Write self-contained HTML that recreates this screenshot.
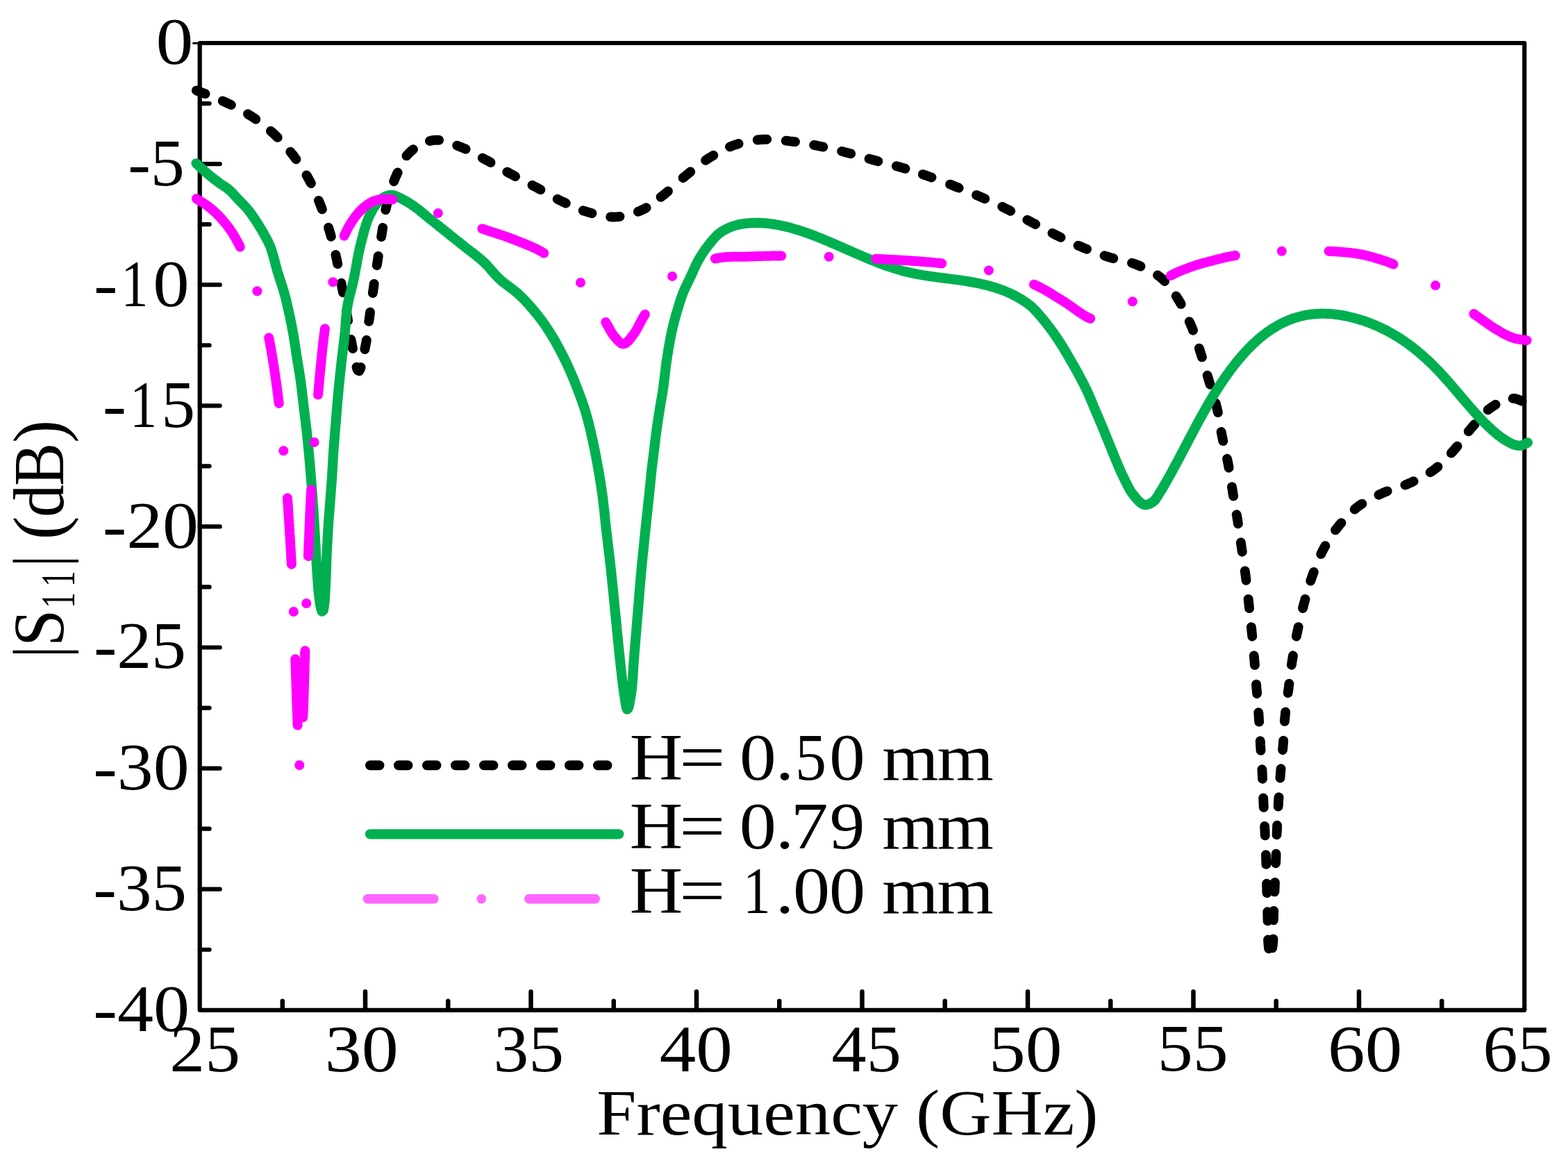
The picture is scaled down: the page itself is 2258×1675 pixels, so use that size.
<!DOCTYPE html><html><head><meta charset="utf-8"><title>S11 vs Frequency</title><style>html,body{margin:0;padding:0;background:#fff;}svg{display:block;}text{font-family:"Liberation Serif","Times New Roman",serif;fill:#000;}</style></head><body>
<svg xmlns="http://www.w3.org/2000/svg" width="2258" height="1675" viewBox="0 0 2258 1675">
<rect width="2258" height="1675" fill="#fff"/>
<g stroke="#000" fill="none">
<path d="M287.7 62.0H2195.3V1454.8H287.7Z" stroke-width="6.2" stroke-linejoin="round"/>
<path d="M278.5 62.2H288" stroke-width="3" stroke-linecap="round"/>
<path d="M406.75 1454.8V1441.7M526.00 1454.8V1428.3M645.25 1454.8V1441.7M764.50 1454.8V1428.3M883.75 1454.8V1441.7M1003.00 1454.8V1428.3M1122.25 1454.8V1441.7M1241.50 1454.8V1428.3M1360.75 1454.8V1441.7M1480.00 1454.8V1428.3M1599.25 1454.8V1441.7M1718.50 1454.8V1428.3M1837.75 1454.8V1441.7M1957.00 1454.8V1428.3M2076.25 1454.8V1441.7" stroke-width="6.5" stroke-linecap="round"/>
<path d="M287.7 149.05H301.6M287.7 236.10H316.7M287.7 323.15H301.6M287.7 410.20H316.7M287.7 497.25H301.6M287.7 584.30H316.7M287.7 671.35H301.6M287.7 758.40H316.7M287.7 845.45H301.6M287.7 932.50H316.7M287.7 1019.55H301.6M287.7 1106.60H316.7M287.7 1193.65H301.6M287.7 1280.70H316.7M287.7 1367.75H301.6" stroke-width="6.2" stroke-linecap="round"/>
</g>
<path d="M282.9 130.4L285.4 131.3L288.1 132.2L290.4 133.1L292.4 133.9L294.7 134.8L295.5 135.1M320.7 145.4L323 146.5L324.9 147.3L326.7 148.2L329.3 149.5L332 150.7L332.8 151.1M357 164.3L359.4 165.8L361.9 167.4L364.4 169L366.8 170.7L368.2 171.7M389.8 188.7L391.9 190.5L394.1 192.5L396.2 194.5L398.3 196.6L399.7 197.9M418.2 218.6L420 220.8L421.8 223.1L423.6 225.5L425.3 227.8L426.4 229.3M441.5 252.4L442.9 254.9L444.3 257.4L445.7 260L447.1 262.6L447.9 264.1M458.9 288.9L459.9 291.3L461 294.1L462.1 296.8L463.2 299.6L463.9 301.4M473 327.8L473.9 330.5L474.7 333.4L475.6 336.2L476.4 339.1L476.8 340.7M483.4 367L483.9 369.6L484.6 372.5L485.2 375.4L485.8 378.3L486.2 380.2M491.5 407.8L492 410.6L492.5 413.5L493.1 416.4L493.6 419.4L493.9 421.2M498.8 448.5L499.3 451.3L499.8 454.2L500.3 457.2L500.8 460.1L501.1 461.8M505.4 488.9L505.9 491.6L506.5 494.5L507.1 497.5L507.5 499.7L508 502L508 502M513.5 528.8L514.3 531.2L515.3 533.4L517.3 534.1L518.6 531.8L519.4 529.6L519.6 529M525.4 503L525.8 500.8L526.2 498.6L526.6 496.6L527.2 493.7L527.7 490.8L527.8 490M531.2 462.9L531.6 460.3L532 457.3L532.4 454.4L532.8 451.4L533 449.6M536.8 422.1L537.2 419.3L537.7 416.4L538.1 413.5L538.5 410.5L538.7 408.9M542.7 382.2L543.1 379.6L543.6 376.7L544 373.7L544.5 370.8L544.7 368.9M549.1 341.1L549.6 338.2L550 335.3L550.5 332.3L550.8 330.3L551.2 328M555.3 302.3L555.8 300L556.2 298.1L556.7 296.1L557.4 293.3L558.1 290.5L558.4 289.2M567.2 261.2L568 259.1L569.1 256.4L570.3 253.7L571.1 251.8L571.9 250L572.6 248.5M585.5 224.4L587.4 222.2L589.3 220.2L591.4 218.2L593.7 216.3L595 215.2M618.9 203L621.7 202.4L624.5 201.9L627.2 201.7L630 201.7L632.1 201.8M658.2 209.6L660.7 210.6L662.6 211.4L665.3 212.5L668.1 213.6L670.6 214.7M694.8 227.6L697.2 228.9L699.8 230.3L702.4 231.7L705.1 233.2L706.5 234M730.3 247.6L732.6 248.9L735.2 250.3L737.8 251.7L740.4 253.1L742 254M766.5 266.8L768.9 268.1L771.5 269.4L774.1 270.8L776.7 272.3L778.4 273.2M802.7 286.8L805.3 288.1L807.9 289.4L810.6 290.7L813.3 291.9L814.8 292.7M839.7 303.3L842.3 304.1L845.1 305L847.9 305.9L850.7 306.7L852.4 307.2M879.2 312.4L882 312.5L884.9 312.5L887.8 312.4L890.7 312.1L892.5 311.9M918.9 304.8L921.5 303.8L924.1 302.6L926.8 301.3L929.4 300L930.6 299.3M951.6 283.9L953.3 282.5L954.9 281.3L956.5 280L958.7 278.2L961 276.4L962 275.5M983.6 256.2L985.3 254.8L987.5 252.9L989.8 251.1L991.4 249.8L992.9 248.5L994.2 247.5M1016.1 230.9L1018.4 229.3L1020.9 227.7L1023.4 226.1L1025.9 224.6L1027.3 223.8M1051 211.4L1053.4 210.5L1056.2 209.4L1058.9 208.5L1061.7 207.6L1063.6 207M1090.8 201.5L1093.7 201.2L1096.6 201L1099.6 200.8L1102.5 200.7L1104.3 200.7M1131.7 202.6L1134.3 202.9L1137.3 203.3L1140.2 203.6L1143.1 204L1145 204.2M1172.2 208.9L1175 209.4L1177.8 210L1180.8 210.6L1183.7 211.2L1185.4 211.6M1212.2 217.9L1214.8 218.6L1217.7 219.4L1220.6 220.1L1223.5 220.9L1225.2 221.3M1251.6 228.7L1254.2 229.4L1257 230.2L1259.9 231L1262.8 231.8L1264.4 232.2M1290.9 239.2L1293.5 239.9L1296.4 240.7L1299.2 241.6L1302.1 242.4L1303.5 242.9M1328.9 251.1L1331.2 251.9L1333.1 252.5L1335 253.2L1337.7 254.2L1340.5 255.2L1341.5 255.5M1368.1 265.6L1370 266.3L1372.7 267.4L1375.4 268.5L1377.3 269.2L1380.1 270.3L1380.7 270.6M1406.1 281L1408.6 282L1411.3 283.2L1414 284.4L1416.8 285.6L1418.3 286.3M1443.3 297.8L1445.7 299L1448.4 300.4L1451.1 301.7L1453.7 303L1455.2 303.8M1479.3 316.8L1481.7 318L1484.3 319.4L1487 320.8L1489.6 322.2L1491.1 323M1515.5 335.9L1517.9 337.1L1520.6 338.5L1523.3 339.8L1525.9 341.1L1527.5 341.9M1552.6 353.6L1555.2 354.7L1557.9 355.8L1560.6 357L1563.4 358.1L1565 358.7M1590.6 368.2L1593.1 369.1L1596 370L1598.8 370.9L1601.7 371.7L1603.3 372.2M1630 378.8L1632.6 379.6L1635.4 380.6L1638.1 381.7L1640.8 382.8L1642.5 383.6M1667 396.4L1669.4 398.1L1671.7 399.9L1673.9 401.8L1676 403.7L1677.2 405M1693.7 426.4L1695.1 428.7L1696.7 431.2L1698.2 433.7L1699.7 436.2L1700.7 437.9M1712.8 463.2L1714 465.8L1715.1 468.6L1716.3 471.3L1717.4 474.1L1718 475.7M1726.9 501.6L1727.7 504.2L1728.6 507.1L1729.5 509.9L1730.4 512.7L1730.9 514.4M1738.7 540.7L1739.5 543.3L1740 545.2L1740.6 547.1L1741.5 550L1742.3 552.8L1742.6 553.7M1750.7 580.7L1751.4 583.5L1752.2 586.4L1752.8 589.3L1753.5 592.2L1753.9 594.1M1758.7 622L1759.1 624.1L1759.6 626.9L1760.2 629.8L1760.8 632.7L1761.3 635.1M1767.1 660.7L1767.6 663.1L1768.2 666L1768.8 668.9L1769.3 671.8L1769.6 673.7M1774 701.3L1774.5 704.1L1774.9 707L1775.4 710L1775.9 712.9L1776.2 714.5M1780.8 741.2L1781.3 743.8L1781.7 746.7L1782.2 749.7L1782.7 752.6L1782.9 754.3M1786.9 781.3L1787.2 784L1787.7 786.9L1788.1 789.9L1788.5 792.8L1788.8 794.7M1792.8 822.4L1793.2 825.3L1793.6 828.2L1794 831.2L1794.3 834.1L1794.5 835.8M1797.7 862.9L1798 865.6L1798.3 868.5L1798.6 871.5L1798.9 874.4L1799.1 876.1M1801.9 903.1L1802.2 905.8L1802.5 908.7L1802.8 911.7L1803.1 914.6L1803.3 916.5M1805.8 944.3L1806.1 947.2L1806.3 950.1L1806.6 953.1L1806.8 956L1807 957.9M1809.1 985.6L1809.3 988.5L1809.5 991.4L1809.8 994.4L1810 997.3L1810.1 999M1812.3 1026.2L1812.5 1028.8L1812.7 1031.8L1812.9 1034.8L1813.1 1037.7L1813.2 1039.6M1814.8 1067.3L1815 1070.2L1815.1 1073.1L1815.3 1076.1L1815.5 1079.1L1815.6 1080.8M1817.4 1108.2L1817.6 1110.9L1817.7 1113.9L1817.9 1116.9L1818 1119.8L1818.1 1121.7M1819.2 1149.5L1819.3 1152.4L1819.5 1155.3L1819.6 1158.3L1819.7 1161.2L1819.8 1162.9M1821.2 1190L1821.3 1192.6L1821.5 1195.6L1821.6 1198.6L1821.7 1201.5L1821.8 1203.4M1823 1231.3L1823.1 1234.1L1823.2 1237.1L1823.3 1240.1L1823.4 1243L1823.4 1244.9M1824.1 1272.7L1824.2 1275.6L1824.3 1278.5L1824.4 1281.5L1824.4 1284.4L1824.5 1286.1M1825.3 1313.2L1825.4 1315.9L1825.5 1318.8L1825.5 1321.8L1825.6 1323.8L1825.6 1325.8L1825.6 1326.4M1826.1 1353.4L1826.2 1355.9L1826.4 1358.4L1826.6 1361.2L1826.9 1363.6L1827.1 1366.2M1832.3 1365.2L1832.6 1362.6L1832.9 1360.2L1833.2 1357.4L1833.4 1354.8L1833.5 1352.4M1833.9 1325.3L1834 1322.7L1834 1320.7L1834.1 1317.7L1834.2 1314.8L1834.3 1312M1835.4 1284.4L1835.5 1281.6L1835.7 1278.7L1835.8 1275.7L1835.9 1272.8L1836 1271M1837.1 1243.2L1837.2 1240.4L1837.4 1237.5L1837.5 1234.5L1837.6 1231.6L1837.6 1229.8M1838.6 1202.2L1838.7 1199.4L1838.9 1196.5L1839 1193.5L1839.1 1190.5L1839.2 1188.8M1840.7 1161.5L1840.9 1158.8L1841 1155.8L1841.2 1152.9L1841.4 1149.9L1841.5 1148.1M1843.5 1120.5L1843.7 1117.7L1843.9 1114.8L1844.2 1111.8L1844.4 1108.9L1844.6 1107.2M1847.1 1080L1847.4 1077.4L1847.6 1074.4L1847.9 1071.4L1848.1 1068.5L1848.2 1066.7M1849.9 1038.9L1850.1 1036.1L1850.4 1033.2L1850.7 1030.2L1851 1027.3L1851.2 1025.5M1854.7 998L1855.1 995.2L1855.5 992.3L1855.9 989.3L1856.2 986.4L1856.4 984.7M1859.9 957.7L1860.3 955L1860.7 952.1L1861.2 949.2L1861.7 946.3L1862 944.3M1866.9 916.5L1867.3 914.5L1867.9 911.6L1868.5 908.7L1869.1 905.8L1869.7 903.1M1876.1 876L1876.8 873.3L1877.5 870.4L1878.3 867.6L1879.1 864.7L1879.5 863M1887.3 836.6L1888.2 834.1L1889.2 831.2L1890.2 828.4L1891.2 825.7L1891.8 823.9M1902.3 798.1L1903.5 795.5L1904.8 792.9L1906.2 790.3L1907.6 787.7L1908.4 786.2M1923.1 763.4L1924.8 761.3L1926.6 759L1928.4 756.7L1930.3 754.4L1931.5 753.1M1950.7 733.6L1952.8 731.8L1955.1 730L1957.5 728.2L1959.9 726.5L1961.4 725.6M1985.5 712.7L1988 711.5L1990.7 710.3L1993.4 709.1L1996.1 708L1997.7 707.4M2023.4 698.5L2025.9 697.6L2028.6 696.4L2031.3 695.2L2034 693.9L2035.6 693.2M2059.7 680.3L2062 678.8L2064.4 677.1L2066.7 675.3L2069 673.5L2070.5 672.3M2089.9 652.6L2091.8 650.5L2093.8 648.3L2095.7 646.1L2097.6 643.8L2098.6 642.6M2114.8 621.3L2116.4 619.4L2117.7 617.8L2119 616.3L2120.9 614L2122.3 612.5L2123.5 611.1M2142.7 590.4L2144.4 589L2146.7 587.3L2149.1 585.6L2150.9 584.5L2152.7 583.4L2153.7 582.8M2178.7 573.9L2180.9 573.9L2182.9 574.3L2185.7 575.2L2188.4 576.3L2191.1 577.4L2191.5 577.5" fill="none" stroke="#000" stroke-width="13.9" stroke-linecap="round" stroke-linejoin="round"/>
<path d="M282.6 235.3L284.7 237.3L286.9 239.2L289 241.2L291.1 243.2L293.3 245.2L295.4 247.1L297.5 249L299.7 250.9L301.9 252.8L303.5 254.1L305.1 255.3L306.7 256.5L309 258.4L311.4 260.1L313.7 261.9L315.9 263.5L318.2 265.2L319.9 266.3L322.3 267.9L324.7 269.4L327 271L329.3 272.8L331.5 274.7L333.5 276.7L335.5 278.8L337.5 281L339.5 283.3L341.5 285.5L343.5 287.6L345.5 289.6L347.5 291.6L349.5 293.6L351.6 295.7L353.5 297.8L355.5 300L357.3 302.2L359.1 304.5L360.8 306.8L362.5 309.2L364.3 311.7L365.4 313.3L366.5 315L367.6 316.7L369.3 319.1L370.8 321.6L372.4 324.1L373.5 325.8L374.5 327.6L375.6 329.3L376.6 331L378.1 333.6L379.5 336.1L380.9 338.6L382.3 341.2L383.7 343.6L384.9 345.9L386.2 348.3L387.4 350.9L388.6 353.6L389.4 355.6L390.3 358L391.2 360.5L392 363.2L392.8 366.1L393.4 368L393.9 369.9L394.5 371.9L395 374L395.5 376L396.1 378L396.6 380.1L397.1 382.1L397.7 384.1L398.2 386.1L398.8 388.1L399.3 390.1L400.2 393L401.1 395.8L401.9 398.6L402.8 401.3L403.7 404.1L404.6 406.8L405.5 409.6L406.4 412.3L407.3 415.1L408.2 418L408.7 419.9L409.3 421.9L409.9 423.8L410.4 425.9L411.2 428.7L411.9 431.4L412.5 434.2L413.2 437.1L413.9 440L414.4 442L414.8 444L415.2 446L415.7 448L416.1 450L416.6 452L417 454L417.4 456L417.8 458L418.2 460L418.6 462L419 464L419.6 466.9L420.2 469.8L420.7 472.6L421.2 475.4L421.8 478.4L422.2 480.5L422.5 482.5L422.9 484.5L423.2 486.5L423.7 489.4L424.1 492.4L424.6 495.3L425 498.1L425.4 501L425.9 503.9L426.3 506.8L426.7 509.7L427.2 512.6L427.7 515.5L428.2 518.5L428.6 521.4L429.1 524.4L429.6 527.4L430.1 530.3L430.6 533.3L431.1 536.2L431.5 539.2L432 542.1L432.4 545.1L432.9 548L433.3 551L433.7 553.9L434 556.8L434.4 559.8L434.7 562.7L435.1 565.7L435.4 568.6L435.7 571.6L436.1 574.5L436.4 577.5L436.7 580.4L437.1 583.3L437.4 586.3L437.8 589.2L438.1 592.2L438.5 595.1L438.9 598.1L439.2 601L439.6 603.9L440 606.9L440.3 609.8L440.7 612.8L441 615.7L441.4 618.7L441.7 621.6L442 624.5L442.3 627.5L442.6 630.5L443 633.4L443.3 636.4L443.5 639.4L443.8 642.4L444.1 645.3L444.4 648.2L444.7 651.2L444.9 654.1L445.2 656.9L445.5 659.9L445.7 662.8L446 665.7L446.2 668.6L446.5 671.5L446.7 674.3L447 677.2L447.2 680.1L447.4 683L447.7 686L447.8 688L448 690L448.2 692.8L448.4 695.6L448.7 698.5L448.9 701.4L449.1 704.3L449.3 707.3L449.6 710.2L449.8 713.2L450 716.2L450.2 719.2L450.4 722.1L450.7 725.1L450.9 728L451.1 731L451.3 733.9L451.5 736.8L451.6 739.7L451.8 742.6L452 745.5L452.2 748.4L452.4 751.3L452.6 754.2L452.7 757.1L452.9 760.1L453.1 763L453.3 766L453.4 769L453.6 771.9L453.8 774.8L453.9 777.7L454.1 780.6L454.2 783.6L454.4 786.6L454.6 789.5L454.7 792.5L454.9 795.5L455 798.5L455.2 801.4L455.4 804.4L455.5 807.3L455.7 810.2L455.9 813.1L456.1 816L456.2 818L456.3 820.1L456.5 822.1L456.6 824.2L456.7 826.3L456.9 828.3L457 830.4L457.1 832.5L457.3 834.5L457.4 836.5L457.6 838.5L457.8 841.5L458 844.4L458.2 847.2L458.5 849.9L458.7 852.5L459 855L459.3 857.2L459.5 859.4L459.8 861.5L460 863.6L460.3 865.6L460.7 868.5L461.2 871.1L461.7 873.5L462.3 876.2L462.9 878.5L463.5 880.6L465.6 879.1L466 876.9L466.4 874.4L466.8 872L467.1 869.8L467.4 867.3L467.6 864.7L467.8 861.9L468 858.9L468.1 856.9L468.3 854.8L468.4 852.7L468.5 850.5L468.6 848.4L468.7 846.3L468.8 844.2L468.9 842.1L469 840L469.1 837.2L469.3 834.4L469.4 831.5L469.5 828.7L469.6 825.7L469.7 822.8L469.8 819.9L469.9 816.9L470 813.9L470.1 810.9L470.2 807.9L470.3 805L470.4 802L470.5 799L470.7 796.1L470.8 793.2L471 790.2L471.1 787.2L471.3 784.3L471.4 781.3L471.6 778.3L471.7 775.4L471.9 772.4L472.1 769.4L472.2 766.4L472.4 763.4L472.6 760.5L472.8 757.5L473 754.5L473.2 751.5L473.3 749.5L473.5 747.5L473.6 745.5L473.8 743.5L473.9 741.5L474.1 739.5L474.3 737.5L474.4 735.5L474.6 733.5L474.8 730.5L475 727.5L475.3 724.6L475.5 721.7L475.7 718.8L475.9 715.9L476.1 713L476.3 710.9L476.4 708.9L476.6 706.9L476.8 704L477 701L477.2 698.1L477.5 695.2L477.7 692.3L477.9 689.4L478.1 686.6L478.3 683.7L478.4 680.9L478.6 678L478.8 675L479 672.1L479.1 669.2L479.3 666.3L479.4 663.5L479.6 660.6L479.8 657.7L479.9 654.7L480.1 652.7L480.2 650.7L480.4 647.9L480.6 645.1L480.8 642.2L481 639.3L481.3 636.4L481.5 633.4L481.8 630.5L482 627.5L482.2 625.5L482.3 623.5L482.5 621.4L482.7 619.4L482.8 617.4L483 615.3L483.3 612.4L483.5 609.5L483.7 606.6L483.9 603.7L484.2 600.7L484.4 597.8L484.7 594.8L484.8 592.8L485 590.8L485.1 588.8L485.3 586.8L485.5 584.8L485.6 582.8L485.8 580.8L486 578.8L486.2 576.8L486.3 574.8L486.6 571.8L486.9 568.8L487.2 565.8L487.4 562.9L487.7 559.9L488 556.9L488.3 554L488.6 551L488.9 548L489.2 545L489.5 542.1L489.8 539.1L490.1 536.1L490.5 533.1L490.8 530.2L491.1 527.2L491.4 524.2L491.8 521.3L492.1 518.3L492.5 515.3L492.8 512.3L493.2 509.4L493.5 506.4L493.9 503.4L494.3 500.4L494.6 497.5L495 494.5L495.3 491.5L495.7 488.6L496 485.6L496.3 482.6L496.5 480.6L496.7 478.6L496.9 476.6L497 474.6L497.2 472.6L497.4 470.6L497.5 468.5L497.7 466.5L497.8 464.5L498 462.5L498.2 460.5L498.3 458.5L498.5 456.5L498.8 453.5L499.1 450.5L499.4 447.6L499.8 444.7L500.2 441.9L500.7 439L501 437L501.4 435L502.1 432.1L502.7 429.2L503.4 426.4L504.1 423.7L504.9 420.9L505.6 418L506.3 415.2L506.8 413.2L507.3 411.2L507.8 409.2L508.3 407.1L508.8 405L509.4 402.4L509.9 399.6L510.5 396.9L511 394L511.6 391.1L511.9 389.1L512.3 387.1L512.7 385.1L513 383.1L513.4 381.1L513.8 379.1L514.1 377L514.5 375L514.9 373L515.3 370.9L515.7 368.9L516.1 366.9L516.5 364.9L516.9 362.9L517.3 361L517.9 358.1L518.6 355.2L519.2 352.4L520 349.6L520.5 347.6L521 345.5L521.5 343.5L522.1 341.5L522.6 339.5L523.1 337.4L523.7 335.4L524.2 333.4L524.8 331.5L525.3 329.5L525.9 327.6L526.8 324.7L527.7 321.9L528.6 319.2L529.6 316.6L530.6 314L531.7 311.6L532.8 309.2L533.8 307.3L534.8 305.3L535.8 303.4L536.8 301.6L537.9 299.8L539 298L540.1 296.4L541.8 294L543.6 291.7L545.5 289.7L547.4 287.9L549.7 286.1L551.4 285L553.2 283.9L555 283L557.8 281.9L560.6 281.2L563.3 280.9L566.1 281.1L568.9 281.9L571.6 283L573.5 283.9L575.4 284.8L577.2 285.7L579.8 287L582.3 288.3L584.7 289.7L587.2 291.2L589.7 292.7L592.2 294.3L594.7 296L597.1 297.6L599.3 299.3L601.6 301L603.8 302.8L606 304.6L608.2 306.4L610.5 308.3L612.1 309.6L613.7 310.9L615.9 312.7L618.1 314.5L620.3 316.3L622.6 318.1L625 320L626.6 321.3L628.2 322.5L629.8 323.8L631.4 325.1L633 326.4L634.6 327.7L636.2 329L637.8 330.2L639.3 331.5L640.9 332.8L643.3 334.6L645.6 336.5L647.9 338.4L650.3 340.3L652.6 342.1L655 344L657.3 345.9L659.6 347.7L662 349.6L664.3 351.5L666.7 353.3L669 355.2L671.3 357.1L673.7 358.9L676.1 360.7L678.5 362.5L680.9 364.4L683.2 366.2L685.6 368L687.9 369.9L690.2 371.8L692.5 373.7L694.7 375.7L696.9 377.7L699 379.7L701 381.8L703 383.9L704.9 386.1L706.8 388.3L708.7 390.5L710.6 392.7L712.6 394.9L714.5 397L716.6 399.1L718.7 401.2L720.8 403.2L723 405.1L725.2 406.9L727.5 408.6L729.8 410.4L732.2 412.1L734.5 413.9L736.9 415.7L739.2 417.4L741.6 419.3L743.9 421.2L745.4 422.5L746.9 423.8L748.4 425.2L750.5 427.2L752.6 429.3L754.6 431.4L756 432.9L757.4 434.4L758.8 435.8L760.2 437.4L761.6 438.9L762.9 440.4L764.3 441.9L765.6 443.5L766.9 445L768.3 446.6L769.5 448.2L770.8 449.7L772.7 452L774.6 454.3L776.3 456.6L778.1 458.9L779.4 460.6L780.6 462.2L781.8 463.9L783 465.5L784.7 467.9L786.3 470.4L788 472.8L789.5 475.3L791.1 477.7L792.7 480.3L794.3 482.8L795.3 484.5L796.4 486.3L797.9 488.8L799.3 491.3L800.8 493.9L802.2 496.4L803.6 499L805.1 501.7L806 503.4L806.9 505.2L807.9 507L808.8 508.8L809.7 510.6L810.6 512.4L811.5 514.2L812.4 516L813.7 518.7L815 521.3L816.3 524L817.2 525.8L818 527.7L818.8 529.5L819.7 531.3L820.5 533.2L821.3 535L822.1 536.9L822.9 538.7L823.7 540.6L824.5 542.5L825.2 544.3L826 546.2L827.1 548.9L828.2 551.7L829.3 554.4L830.4 557.2L831.5 559.9L832.5 562.7L833.3 564.6L834 566.5L834.7 568.4L835.7 571.2L836.8 574L837.8 576.7L838.7 579.5L839.7 582.3L840.7 585.1L841.6 588L842.2 589.9L842.8 591.8L843.4 593.8L844.2 596.6L845 599.4L845.8 602.3L846.6 605.1L847.3 608L847.8 610L848.3 611.9L848.8 613.9L849.3 615.8L849.7 617.8L850.2 619.8L850.7 621.7L851.1 623.7L851.6 625.7L852 627.6L852.4 629.6L853.1 632.5L853.7 635.4L854.4 638.3L855 641.2L855.6 644.1L856.2 646.9L856.8 649.8L857.3 652.7L857.9 655.6L858.5 658.5L859 661.5L859.5 664.4L860.1 667.3L860.4 669.3L860.8 671.3L861.3 674.1L861.8 677L862.3 679.8L862.8 682.7L863.3 685.6L863.8 688.4L864.2 691.3L864.7 694.2L865.2 697.2L865.6 700.1L866.1 703L866.5 706L866.9 708.9L867.2 710.9L867.5 712.9L867.9 715.8L868.2 718.6L868.6 721.5L868.9 724.3L869.2 727.2L869.5 730.1L869.9 732.9L870.2 735.8L870.5 738.7L870.8 741.7L871.1 744.6L871.4 747.6L871.6 749.6L871.8 751.6L872 753.6L872.2 755.6L872.4 757.7L872.7 759.7L872.9 761.8L873.2 764.6L873.5 767.4L873.9 770.2L874.2 773.1L874.5 776L874.9 778.9L875.2 781.8L875.6 784.7L876 787.7L876.3 790.7L876.5 792.7L876.8 794.6L877 796.6L877.3 798.6L877.5 800.6L877.7 802.6L878 804.6L878.2 806.6L878.4 808.6L878.7 810.6L878.9 812.6L879.1 814.6L879.4 817.6L879.8 820.6L880.1 823.5L880.4 826.4L880.7 829.4L881 832.3L881.3 835.3L881.6 838.2L881.9 841.1L882.2 844.1L882.5 847L882.8 850L883.1 852.9L883.4 855.9L883.7 858.8L884 861.8L884.3 864.7L884.6 867.6L884.8 870.6L885.1 873.5L885.4 876.5L885.7 879.4L886 882.4L886.3 885.3L886.6 888.2L886.9 891.2L887.2 894.2L887.5 897.2L887.8 900.1L888.1 903.1L888.2 905.1L888.4 907.1L888.6 909.1L888.8 911.1L889.1 914.1L889.4 917.1L889.7 920L890 923L890.3 925.9L890.6 928.9L890.9 931.8L891.2 934.7L891.5 937.6L891.8 940.5L892.1 943.3L892.4 946.2L892.7 949.2L893 951.3L893.2 953.4L893.4 955.5L893.6 957.6L893.9 959.7L894.1 961.8L894.3 963.9L894.6 966L894.8 968.1L895 970.2L895.3 972.3L895.5 974.4L895.7 976.4L896 978.4L896.2 980.4L896.6 983.4L896.9 986.2L897.3 989L897.7 991.7L898.1 994.4L898.4 996.9L898.9 999.7L899.3 1002.2L899.7 1004.8L900 1007.4L900.4 1010.1L900.8 1012.6L901.2 1014.9L901.6 1017L902.2 1019.6L903.1 1021.7L904.8 1019.8L905.5 1017.4L906 1015.4L906.5 1013.2L906.9 1010.8L907.4 1008.4L907.8 1005.8L908.2 1003.3L908.6 1000.8L909 998.5L909.4 996.1L909.7 993.5L910 990.9L910.3 988.1L910.5 985.3L910.7 982.4L911 979.4L911.1 977.4L911.2 975.4L911.4 973.3L911.5 971.3L911.6 969.2L911.8 967.1L911.9 965L912 962.9L912.1 960.8L912.3 958.6L912.4 956.5L912.6 954.4L912.7 952.3L912.9 950.2L913 948.1L913.3 945.2L913.5 942.4L913.7 939.5L914 936.6L914.2 933.7L914.4 930.8L914.7 927.9L914.9 925L915.2 922L915.4 919L915.6 916.1L915.9 913.1L916.1 910.1L916.4 907.1L916.6 904.1L916.9 901.1L917.1 898.1L917.4 895.2L917.6 892.2L917.9 889.2L918.1 886.3L918.4 883.3L918.6 880.4L918.8 877.5L919.1 874.5L919.3 871.6L919.6 868.6L919.8 865.7L920 862.7L920.3 859.8L920.5 856.8L920.8 853.9L921 851L921.3 848L921.5 845.1L921.8 842.1L922 839.2L922.3 836.2L922.5 833.3L922.8 830.4L923 827.4L923.3 824.5L923.6 821.5L923.9 818.6L924.1 815.6L924.4 812.7L924.7 809.7L925 806.8L925.3 803.8L925.6 800.9L925.9 797.9L926.2 794.9L926.5 792L926.8 789L927.1 786.1L927.4 783.1L927.7 780.2L928 777.3L928.3 774.4L928.6 771.4L928.9 768.5L929.2 765.6L929.5 762.8L929.8 759.8L930 757.7L930.2 755.6L930.5 753.6L930.7 751.5L930.9 749.4L931.1 747.3L931.3 745.2L931.6 743.1L931.8 741L932 738.9L932.2 736.8L932.5 734.8L932.7 732.7L932.9 730.6L933.1 728.6L933.3 726.6L933.6 724.6L933.9 721.6L934.2 718.7L934.5 715.8L934.8 713.1L935.1 710.4L935.3 707.7L935.6 705.2L935.8 703L936 700.9L936.2 698.8L936.4 696.8L936.7 693.9L937 691L937.3 688.3L937.5 685.5L937.8 682.8L938.1 680L938.4 677.2L938.7 674.3L939.1 671.4L939.4 668.4L939.8 665.5L940.1 662.6L940.5 659.7L940.9 656.8L941.2 653.9L941.6 651L942 648.1L942.3 645.2L942.7 642.3L943 639.4L943.4 636.5L943.7 633.6L944.1 630.7L944.4 627.8L944.8 624.9L945.2 622L945.6 619.1L946 616.2L946.4 613.2L946.8 610.3L947.2 607.4L947.7 604.5L948.1 601.6L948.6 598.7L949 595.8L949.5 592.9L949.9 590L950.4 587.1L950.9 584.2L951.4 581.4L951.8 578.6L952.3 575.8L952.8 573L953.3 570.1L953.8 567.2L954.1 565.2L954.4 563.1L954.7 561.1L955.2 558.2L955.5 555.5L955.9 552.7L956.2 549.9L956.6 547L956.9 544L957.3 541.1L957.5 539.1L957.7 537L958 535L958.2 533L958.5 531L958.7 529L959 526.9L959.2 524.9L959.5 522.9L959.8 520.9L960.1 518.9L960.5 516L961 513.1L961.4 510.1L961.8 508.1L962.1 506.1L962.4 504.1L962.7 502.1L963.1 500.1L963.4 498.1L963.8 496.1L964.1 494.2L964.5 492.2L964.9 490.2L965.4 487.3L966 484.4L966.6 481.5L967.1 478.8L967.7 476L968.3 473.4L969 470.4L969.5 468.4L970 466.4L970.5 464.4L971 462.5L971.8 459.6L972.5 456.8L973.3 454.1L974.1 451.3L974.9 448.7L975.7 446L976.5 443.4L977.1 441.4L977.7 439.4L978.3 437.5L979.2 434.6L980.1 431.8L981 429.1L982 426.3L983 423.6L984.1 420.8L985.2 418.2L986.3 415.6L987.5 413L988.8 410.4L990.1 407.8L991.3 405.2L992.6 402.6L993.9 399.9L995.1 397.3L996.3 394.7L997.5 392L998.6 389.3L999.9 386.6L1001.1 383.9L1002.4 381.2L1003.7 378.6L1005 376L1006.5 373.5L1008 371L1009.5 368.5L1011.1 366L1012.7 363.5L1014.3 361.1L1016 358.7L1017.7 356.4L1019.4 354.1L1021.2 351.8L1022.5 350.2L1023.8 348.7L1025.1 347.1L1026.4 345.5L1027.7 344L1029.7 341.8L1031.7 339.8L1033.8 337.8L1036 336L1037.6 334.8L1039.3 333.6L1041.1 332.5L1042.9 331.5L1044.6 330.5L1046.4 329.6L1049.1 328.3L1051.7 327.2L1054.4 326.1L1056.3 325.4L1059.1 324.6L1061.9 323.9L1064.6 323.3L1067.5 322.7L1070.3 322.2L1073.1 321.9L1076 321.6L1078.8 321.4L1081.7 321.2L1084.5 321.1L1087.4 321L1090.2 321L1093.1 321L1095.9 321.1L1098.8 321.3L1101.6 321.5L1104.4 321.7L1107.3 322L1110.1 322.4L1113 322.8L1115.8 323.2L1118.7 323.7L1121.5 324.2L1124.4 324.8L1127.2 325.4L1130.1 326L1132.9 326.7L1135.8 327.4L1138.6 328.2L1141.4 329L1144.3 329.8L1147.1 330.7L1150 331.5L1152.8 332.5L1155.5 333.3L1158.1 334.2L1160.8 335.1L1163.4 336.1L1166 337L1168.7 338L1171.3 339L1174 340L1176.6 341.1L1179.2 342.1L1181.9 343.2L1184.5 344.2L1187.2 345.3L1189.8 346.4L1192.5 347.5L1195.1 348.7L1197.7 349.8L1200.4 350.9L1203 352.1L1205.7 353.2L1208.3 354.4L1211 355.5L1213.6 356.7L1216.2 357.9L1218.9 359L1221.5 360.2L1224.2 361.3L1226.8 362.5L1229.4 363.7L1232.1 364.8L1234.7 366L1237.4 367.1L1240 368.2L1242.7 369.4L1245.3 370.5L1247.9 371.6L1250.6 372.7L1253.2 373.8L1255.9 374.9L1258.5 375.9L1261.2 377L1263.8 378L1266.4 379L1269.1 380L1271.7 381L1274.4 382L1277 382.9L1279.7 383.8L1282.3 384.7L1284.9 385.6L1287.6 386.5L1290.4 387.3L1293.2 388.2L1296 389L1298.9 389.8L1301.7 390.6L1304.6 391.3L1307.4 392L1310.3 392.6L1313.1 393.3L1316 393.9L1318.8 394.4L1321.7 395L1324.5 395.5L1327.4 396L1330.2 396.5L1333 396.9L1335.9 397.4L1338.7 397.8L1341.6 398.2L1344.4 398.6L1347.3 399L1350.1 399.4L1353 399.7L1355.8 400.1L1358.7 400.4L1361.5 400.8L1364.4 401.2L1367.2 401.5L1370 401.9L1372.9 402.3L1375.7 402.6L1378.6 403L1381.4 403.4L1384.3 403.8L1387.1 404.2L1390 404.7L1392.8 405.1L1395.7 405.6L1398.5 406.1L1401.3 406.6L1404.2 407.1L1407 407.7L1409.9 408.3L1412.7 408.9L1415.6 409.5L1418.4 410.2L1421.3 410.9L1424.1 411.7L1427 412.5L1429.8 413.3L1432.7 414.2L1435.5 415.1L1438.2 416L1440.9 416.9L1443.5 417.9L1446.1 418.9L1448.8 420L1451.4 421.1L1454.1 422.3L1456.7 423.5L1459.4 424.8L1461.9 426.1L1464.4 427.5L1466.9 428.9L1469.4 430.3L1471.8 431.9L1474.2 433.4L1476.6 435L1478.9 436.6L1481.2 438.3L1483.5 440.1L1485.8 442L1487.8 443.8L1489.7 445.8L1491.7 447.9L1493.6 450L1495.5 452.2L1497.4 454.4L1499.3 456.6L1501.1 458.7L1502.9 460.9L1504.7 463.2L1506.6 465.5L1508.4 467.8L1510.2 470.1L1512 472.5L1513.7 474.9L1515.5 477.2L1517.2 479.6L1518.9 482L1520.5 484.5L1522.2 487L1523.9 489.4L1525.5 491.9L1527.1 494.4L1528.7 496.9L1530.2 499.3L1531.7 501.8L1533.2 504.3L1534.7 506.8L1536.2 509.3L1537.7 511.9L1539.2 514.5L1540.2 516.2L1541.6 518.7L1543.1 521.2L1544.6 523.8L1546.1 526.4L1547.1 528.2L1548.1 529.9L1549 531.7L1550 533.4L1551.5 536L1552.9 538.6L1554.2 541.2L1555.7 543.8L1556.6 545.6L1557.5 547.4L1558.9 550L1560.3 552.6L1561.6 555.3L1562.9 557.9L1564.2 560.5L1565.5 563.2L1566.7 565.9L1567.9 568.5L1569 571.1L1570.2 573.8L1571.3 576.4L1572.4 579.1L1573.5 581.7L1574.6 584.4L1575.7 587.2L1576.9 589.9L1578 592.6L1579.2 595.3L1580 597.2L1580.8 599L1581.6 600.9L1582.4 602.7L1583.2 604.6L1583.9 606.4L1585.1 609.2L1586.3 611.9L1587.4 614.6L1588.5 617.2L1589.3 619.1L1590.4 621.9L1591.5 624.6L1592.5 627.2L1593.6 629.9L1594.7 632.5L1595.8 635.2L1596.9 638L1598 640.7L1599.1 643.4L1600.2 646.2L1601.3 649L1602.1 650.8L1602.8 652.7L1603.6 654.5L1604.3 656.4L1605.5 659.2L1606.6 661.9L1607.8 664.6L1608.9 667.3L1610 670L1611.1 672.6L1612.3 675.3L1613.4 677.9L1614.6 680.6L1615.9 683.3L1616.8 685.1L1618.1 687.7L1619.4 690.4L1620.2 692.2L1621.1 694.1L1622.1 695.9L1623 697.8L1623.9 699.6L1624.9 701.5L1625.9 703.3L1626.9 705L1628.4 707.6L1630 710L1631.7 712.2L1633 713.9L1634.4 715.6L1635.8 717.3L1637.3 719L1638.7 720.6L1640.2 722.1L1641.7 723.5L1644 725.2L1646.2 726.4L1648.6 727L1651.5 726.9L1653.5 726.4L1655.4 725.6L1657.3 724.7L1659.1 723.6L1660.8 722.4L1662.8 720.6L1664.6 718.4L1666.2 716L1667.3 714.3L1668.3 712.5L1669.4 710.7L1670.4 709L1672 706.6L1673.5 704.2L1674.9 701.7L1676.4 699.2L1677.8 696.7L1679.2 694.2L1680.7 691.7L1682.1 689.2L1683.5 686.7L1684.9 684.2L1686.3 681.7L1687.7 679.2L1689 676.6L1690.4 674.1L1691.8 671.6L1693.2 669L1694.6 666.4L1696 663.8L1697.4 661.2L1698.8 658.6L1700.1 655.9L1701.5 653.3L1702.9 650.7L1704.3 648.1L1705.7 645.4L1707.1 642.8L1708.5 640.1L1709.9 637.5L1711.2 634.8L1712.6 632.2L1714 629.6L1715.4 626.9L1716.8 624.3L1718.2 621.7L1719.6 619.1L1721 616.4L1722.3 613.8L1723.7 611.3L1725.1 608.7L1726.5 606.1L1727.9 603.6L1729.3 601L1730.7 598.5L1732.1 596L1733.5 593.4L1735 590.8L1736.4 588.2L1737.9 585.7L1739.3 583.1L1740.8 580.6L1742.2 578.1L1743.8 575.6L1745.3 573L1746.8 570.5L1748.3 568L1749.9 565.5L1751.4 563.1L1753 560.6L1754.5 558.1L1756.1 555.7L1757.7 553.2L1759.4 550.8L1761 548.4L1762.6 546L1764.3 543.6L1766 541.2L1767.7 538.8L1769.4 536.5L1771.1 534.1L1772.8 531.8L1774.6 529.5L1776.3 527.2L1778.1 524.9L1779.9 522.6L1781.8 520.3L1783.6 518.1L1785.5 515.9L1787.4 513.6L1789.3 511.4L1791.2 509.3L1793.1 507.1L1795.2 505L1797.2 502.8L1799.2 500.7L1801.3 498.7L1803.3 496.6L1805.5 494.6L1807.7 492.6L1809.8 490.6L1812 488.6L1814.3 486.7L1815.8 485.4L1817.4 484.2L1819 482.9L1821.3 481.1L1823.7 479.3L1826 477.6L1828.4 476L1830.7 474.4L1833.1 472.9L1835.6 471.4L1838.1 469.8L1840.6 468.4L1843.2 467L1845.7 465.7L1848.3 464.5L1850.8 463.3L1853.4 462.2L1856.1 461L1858.8 460L1861.6 458.9L1864.4 458L1867.2 457.1L1870 456.3L1872.7 455.6L1875.5 454.9L1878.3 454.3L1881.1 453.8L1883.8 453.3L1886.6 452.9L1889.4 452.6L1892.2 452.3L1895 452.1L1897.7 451.9L1900.5 451.8L1903.3 451.7L1906.1 451.7L1908.8 451.8L1911.6 451.9L1914.4 452L1917.2 452.2L1920 452.5L1922.7 452.8L1925.5 453.1L1928.3 453.5L1931.1 453.9L1933.8 454.4L1936.6 454.9L1939.4 455.5L1942.2 456.1L1944.9 456.8L1947.7 457.4L1950.5 458.2L1953.3 458.9L1956 459.7L1958.8 460.6L1961.6 461.4L1964.4 462.3L1967.2 463.3L1969.9 464.3L1972.7 465.3L1975.5 466.4L1978.1 467.5L1980.7 468.5L1983.2 469.6L1985.7 470.8L1988.3 472L1990.8 473.2L1993.4 474.4L1995.9 475.7L1998.5 477L2001 478.4L2003.6 479.8L2006.1 481.3L2008.7 482.8L2011.2 484.3L2013.8 485.9L2015.4 487L2017.1 488.1L2019.5 489.6L2021.8 491.2L2024.2 492.9L2026.5 494.5L2028.9 496.2L2031.2 498L2033.6 499.7L2035.9 501.6L2038.2 503.4L2040.4 505.1L2042.6 506.9L2044.8 508.8L2046.9 510.6L2049.1 512.5L2051.3 514.5L2053.5 516.5L2055.7 518.5L2057.8 520.5L2059.9 522.5L2061.9 524.4L2064 526.5L2066 528.5L2068 530.6L2070.1 532.7L2072.1 534.8L2074.2 537L2076.2 539.2L2078.2 541.4L2080.1 543.6L2082 545.7L2084 547.9L2085.9 550L2087.8 552.2L2089.7 554.4L2091.6 556.6L2093.5 558.8L2095.4 561.1L2097.3 563.3L2099.2 565.5L2101.1 567.8L2103 570L2104.9 572.3L2106.8 574.5L2108.8 576.7L2110.7 579L2112.6 581.2L2114.5 583.4L2116.4 585.6L2118.3 587.8L2120.2 589.9L2122.1 592.1L2124 594.2L2125.9 596.3L2127.8 598.4L2129.8 600.6L2131.8 602.7L2133.8 604.9L2135.9 607L2137.9 609.1L2140 611.1L2142 613.1L2144 615L2146.1 616.9L2148.1 618.8L2150.2 620.7L2152.4 622.5L2154.5 624.4L2156.7 626.1L2158.9 627.9L2161.2 629.5L2163.5 631.2L2165.9 632.8L2168.2 634.3L2170.7 635.7L2173.2 637.2L2175.7 638.5L2178.3 639.7L2180.9 640.6L2183.7 641.3L2186.5 641.7L2189.3 641.8L2192 641.3L2194.7 640.2L2197.3 638.8L2200 637.5" fill="none" stroke="#00B050" stroke-width="14.3" stroke-linecap="round" stroke-linejoin="round"/>
<path d="M282.9 286.2L285.4 287.8L287.9 289.4L290.5 291L293 292.5L295.5 294.2L297.9 295.8L300.3 297.6L302.6 299.4L304.8 301.2L307 303.1L309.1 305L311.2 307L313.3 309.1L315.4 311.2L317.4 313.3L319.3 315.4L321.2 317.6L323.1 319.8L325 322.1L326.9 324.5L328.1 326.1L329.3 327.7L330.5 329.4L332.1 331.7L333.6 334L335.1 336.3L336.6 338.6L338 341L339.5 343.6L340.9 346.2L341.9 348L342.9 349.9L343.9 351.9L344.9 353.9L345.7 355.7M370.4 419.2h0.01M387.2 486.5L387.7 489.2L388.3 492L388.8 494.8L389.3 497.6L389.9 500.5L390.4 503.4L390.9 506.3L391.2 508.3L391.6 510.3L391.9 512.3L392.2 514.3L392.6 516.3L392.9 518.3L393.2 520.3L393.5 522.4L393.8 524.4L394.2 526.4L394.5 528.5L394.8 530.5L395.1 532.6L395.4 534.6L395.7 536.7L396 538.7L396.3 540.8L396.6 542.8L396.9 544.8L397.2 546.9L397.5 548.9L397.8 550.9L398 553L398.3 555L398.6 557L398.9 559L399.3 561.9L399.6 564.9L400 567.8L400.4 570.7L400.8 573.5L401.1 576.3L401.5 579.1L401.7 580.9M408.3 649.2h0.01M413.9 717.3L414.1 720.1L414.3 722.8L414.5 725.7L414.7 728.6L414.9 731.5L415.1 734.4L415.3 737.4L415.4 739.4L415.6 741.4L415.7 743.4L415.8 745.4L416 747.5L416.1 749.5L416.2 751.6L416.3 753.6L416.5 755.7L416.6 757.7L416.7 759.8L416.9 761.9L417 763.9L417.1 766L417.2 768.1L417.4 770.2L417.5 772.2L417.6 774.3L417.7 776.4L417.9 778.4L418 780.5L418.1 782.5L418.2 784.5L418.3 786.6L418.5 788.6L418.6 790.6L418.7 792.6L418.9 795.6L419 798.5L419.2 801.4L419.3 804.3L419.5 807.1L419.7 809.9L419.8 812.7M422.8 881h0.01M425.3 949.3L425.4 952.1L425.5 954.9L425.6 957.7L425.7 960.6L425.8 963.5L425.9 966.5L426 968.5L426 970.5L426.1 972.6L426.2 974.6L426.2 976.6L426.3 978.7L426.4 980.7L426.4 982.8L426.5 984.9L426.6 987L426.6 989.1L426.7 991.1L426.8 993.2L426.8 995.3L426.9 997.4L427 999.5L427.1 1001.6L427.1 1003.7L427.2 1005.7L427.3 1007.8L427.3 1009.9L427.4 1011.9L427.5 1014L427.5 1016L427.6 1018L427.7 1020L427.8 1023L427.9 1026L428 1028.9L428.1 1031.7L428.2 1034.6L428.3 1037.4L428.4 1040.1L428.5 1042.8L428.6 1044.5M431.3 1102h0.01M436.2 1033.2L436.3 1030.4L436.5 1027.6L436.6 1024.8L436.7 1021.9L436.9 1018.9L437 1016L437.1 1013L437.2 1011L437.2 1009L437.3 1006.9L437.4 1004.9L437.4 1002.8L437.5 1000.8L437.6 998.7L437.6 996.7L437.7 994.6L437.8 992.5L437.8 990.4L437.9 988.4L438 986.3L438 984.2L438.1 982.1L438.1 980L438.2 978L438.2 975.9L438.3 973.8L438.4 971.7L438.4 969.7L438.5 967.6L438.5 965.6L438.6 963.5L438.6 961.5L438.7 959.5L438.7 957.5L438.8 954.5L438.9 951.5L439 948.6L439.1 945.7L439.1 942.9L439.2 940.1L439.3 937.3M441.2 869h0.01M443.9 801.1L444 798.3L444.1 795.5L444.2 792.7L444.4 789.8L444.5 786.9L444.6 783.9L444.7 780.9L444.8 778.9L444.9 776.9L445 774.9L445.1 772.8L445.1 770.8L445.2 768.7L445.3 766.7L445.4 764.6L445.5 762.5L445.6 760.4L445.6 758.4L445.7 756.3L445.8 754.2L445.9 752.1L446 750L446.1 748L446.2 745.9L446.3 743.8L446.3 741.7L446.4 739.7L446.5 737.6L446.6 735.5L446.7 733.5L446.8 731.5L446.9 729.4L447 727.4L447.1 725.4L447.2 722.4L447.4 719.4L447.5 716.5L447.7 713.6L447.8 710.8L448 708L448.1 705.2M452.6 636.9h0.01M458 568.6L458.3 565.8L458.5 563L458.8 560.2L459 557.3L459.3 554.4L459.6 551.5L459.8 548.5L460 546.5L460.2 544.5L460.4 542.5L460.6 540.5L460.8 538.4L461 536.4L461.2 534.3L461.4 532.3L461.6 530.2L461.7 528.2L462 526.1L462.2 524L462.4 522L462.6 519.9L462.8 517.8L463 515.8L463.2 513.7L463.4 511.6L463.6 509.6L463.8 507.5L464 505.5L464.3 503.4L464.5 501.4L464.7 499.4L464.9 497.4L465.2 495.4L465.4 493.4L465.7 490.4L466.1 487.5L466.4 484.6L466.8 481.7L467.2 478.9L467.5 476.1L467.9 473.4M479.4 406.2h0.01M495.7 339.7L496.6 337.7L497.5 335.8L498.4 333.9L499.3 332L500.3 330.1L501.3 328.2L502.3 326.4L503.3 324.6L504.4 322.8L505.4 321.1L506.5 319.4L508.2 316.9L509.8 314.5L511.5 312.2L513.3 310L515 307.8L516.8 305.8L518.5 303.9L520.5 302L522 300.5L523.5 299.1L525.1 297.8L526.6 296.6L529 294.8L531.4 293.2L533.9 291.8L536.4 290.5L538.9 289.4L541.5 288.5L544.2 287.8L547 287.3L549.7 287L552.6 286.9L555.5 286.9L558.4 287L561.4 287.1L563.4 287.3L565.5 287.4L565.5 287.4M630.8 307.1h0.01M694.4 329.4L696.4 330.1L698.4 330.8L700.4 331.4L702.3 332.1L704.2 332.7L706.1 333.3L709 334.3L711.8 335.2L714.6 336.1L717.3 337L720.1 337.9L722.8 338.8L725.5 339.7L728.2 340.6L730.9 341.6L733.7 342.6L736.4 343.6L739.1 344.6L741.8 345.7L744.6 346.8L747.3 347.9L750 348.9L752.7 350L755.4 351.1L758.1 352.1L760.8 353.3L763.5 354.4L766.2 355.6L768.9 356.8L771.6 358.1L773.4 359L775.2 360L777 360.9L778.8 361.9L780.6 363L782.4 364L783.3 364.6M836 407h0.01M872.3 464.1L873.5 466.1L874.7 468.1L875.7 470L876.8 471.9L877.7 473.6L879.1 476.2L880.5 478.6L881.9 480.8L883.4 483L885 485L886.4 486.6L887.9 488.3L889.4 490L891 491.6L892.5 493L894.9 494.6L897.2 495.4L899.4 495.1L901.5 494L903.7 492.2L905.1 490.8L906.5 489.1L907.9 487.4L909.3 485.6L910.6 483.8L912 482L913.5 479.9L915 477.7L916.4 475.4L917.7 473L919.1 470.4L920.5 467.8L921.4 466L922.3 464.2L923.3 462.3L924.3 460.4L925.4 458.5L926.5 456.6L927.7 454.7L928.9 452.7M968.1 397.9h0.01M1029.9 372.5L1031.9 372.1L1033.9 371.7L1036 371.3L1038 371L1040 370.8L1042 370.5L1044 370.3L1046.9 370.1L1049.9 370L1052.9 369.8L1055.8 369.8L1058.7 369.7L1061.7 369.7L1064.6 369.7L1067.5 369.7L1070.4 369.7L1073.3 369.7L1076.2 369.6L1079 369.5L1082 369.4L1085 369.3L1087.9 369.2L1090.8 369.1L1093.6 369L1096.5 368.9L1099.3 368.8L1102.2 368.8L1105 368.7L1107.9 368.7L1110.8 368.6L1113.8 368.6L1115.8 368.6L1117.8 368.5L1119.9 368.5L1122 368.5L1124.1 368.5L1125.2 368.5M1193.7 369.7h0.01M1261.4 372.8L1263.5 372.9L1265.6 373L1267.7 373.1L1269.8 373.2L1271.9 373.3L1273.9 373.4L1275.9 373.5L1277.9 373.6L1280.9 373.8L1283.8 373.9L1286.8 374.1L1289.7 374.2L1292.6 374.4L1295.5 374.6L1298.4 374.7L1301.3 374.9L1304.2 375.1L1307.1 375.3L1310 375.5L1313 375.7L1315.9 375.9L1318.8 376.1L1321.7 376.3L1324.6 376.5L1327.4 376.7L1330.3 376.9L1333.2 377.2L1336.1 377.4L1339 377.6L1341.9 377.9L1344.9 378.2L1346.9 378.4L1349 378.6L1351 378.8L1353.1 379L1355.2 379.3L1356.3 379.4M1423.9 389.4h0.01M1488.9 409.7L1490.8 410.6L1492.7 411.4L1494.6 412.3L1496.4 413.2L1498.3 414.1L1500 415.1L1502.7 416.5L1505.2 417.9L1507.8 419.4L1510.3 420.8L1512.7 422.3L1515.2 423.8L1517.6 425.4L1520.1 426.9L1522.5 428.4L1525 429.9L1527.5 431.5L1530 433L1531.7 434L1533.4 435.1L1535.1 436.3L1536.9 437.4L1538.6 438.6L1540.4 439.9L1542.1 441.1L1543.8 442.3L1545.6 443.6L1547.3 444.8L1549.1 446L1550.8 447.3L1552.5 448.5L1554.2 449.6L1555.9 450.8L1557.6 451.9L1560 453.5L1562.5 455L1564.9 456.3L1567.2 457.5L1569.5 458.5L1570.2 458.8M1630.9 434.3h0.01M1686 396.8L1688 395.7L1690 394.7L1691.9 393.7L1693.8 392.8L1695.6 392L1698.3 390.8L1700.9 389.7L1703.5 388.7L1706.1 387.7L1708.8 386.7L1711.5 385.7L1714.3 384.7L1717 383.7L1719.8 382.8L1722.6 381.9L1725.5 381L1728.3 380.2L1731.2 379.3L1734.1 378.5L1737 377.7L1739.9 377L1742.8 376.2L1745.6 375.4L1748.5 374.7L1751.2 374L1753.9 373.3L1756.6 372.6L1759.3 372L1762 371.3L1764.7 370.7L1767.5 370.1L1770.5 369.5L1772.5 369.1L1774.5 368.7L1776.7 368.4L1778.9 368M1845.8 361.8h0.01M1913.6 361.8L1915.8 361.9L1917.9 362L1920.1 362.1L1922.2 362.2L1924.3 362.4L1926.4 362.5L1928.4 362.6L1930.5 362.8L1932.5 362.9L1934.5 363.1L1937.5 363.4L1940.4 363.6L1943.2 363.9L1946 364.3L1948.8 364.6L1951.5 365L1954.2 365.4L1956.8 365.8L1958.9 366.2L1961 366.6L1963.1 367L1965.1 367.4L1967 367.9L1969.9 368.6L1972.7 369.3L1975.5 370.1L1978.2 370.9L1981 371.7L1983.7 372.5L1986.5 373.3L1989.1 374.2L1991.7 375L1994.2 375.8L1996.8 376.7L1999.5 377.7L2001.4 378.5L2003.4 379.3L2005.5 380.1L2006.6 380.6M2067.2 411.1h0.01M2122.4 452L2124.2 453.3L2126 454.6L2127.8 455.9L2129.5 457.1L2131.3 458.4L2133 459.6L2134.6 460.8L2136.3 462L2138 463.2L2139.6 464.4L2142 466.1L2144.4 467.7L2146.8 469.3L2149.1 470.9L2151.4 472.4L2153.7 473.8L2156 475.2L2157.9 476.3L2159.7 477.4L2161.5 478.4L2163.3 479.5L2165.1 480.4L2167.8 481.8L2170.4 483.1L2172.9 484.3L2175.5 485.4L2178.1 486.4L2181 487.3L2183 487.8L2184.9 488.2L2187.9 488.7L2190.8 489.1L2193.7 489.5L2196.6 489.9L2198.6 490.2" fill="none" stroke="#FF00FF" stroke-width="14" stroke-linecap="round" stroke-linejoin="round"/>
<path d="M533.0 1102.2h13.4M574.0 1102.2h13.4M615.0 1102.2h13.4M656.0 1102.2h13.4M697.0 1102.2h13.4M738.0 1102.2h13.4M779.0 1102.2h13.4M820.0 1102.2h13.4M861.0 1102.2h13.4" stroke="#000" stroke-width="14" stroke-linecap="round"/>
<path d="M533 1201.3H891.3" stroke="#00B050" stroke-width="14.3" stroke-linecap="round"/>
<path d="M529.4 1294.6h95.4M693.3 1294.6h0.01M761.8 1294.6h95.4" stroke="#FF66FF" stroke-width="13.6" stroke-linecap="round"/>
<text transform="translate(224.39 92.29) scale(1.1291 1)" font-size="95.50">0</text>
<text transform="translate(184.16 266.50) scale(1.0266 1)" font-size="95.50">-5</text>
<text y="440.54" font-size="95.50"><tspan x="134.96" textLength="34.48" lengthAdjust="spacingAndGlyphs">-</tspan><tspan x="174.31" textLength="39.20" lengthAdjust="spacingAndGlyphs">1</tspan><tspan x="220.31" textLength="52.38" lengthAdjust="spacingAndGlyphs">0</tspan></text>
<text y="614.71" font-size="95.50"><tspan x="147.69" textLength="34.23" lengthAdjust="spacingAndGlyphs">-</tspan><tspan x="187.01" textLength="39.20" lengthAdjust="spacingAndGlyphs">1</tspan><tspan x="232.33" textLength="48.78" lengthAdjust="spacingAndGlyphs">5</tspan></text>
<text transform="translate(147.65 788.79) scale(1.0864 1)" font-size="95.50">-20</text>
<text transform="translate(134.89 962.35) scale(1.0456 1)" font-size="95.50">-25</text>
<text transform="translate(134.25 1137.19) scale(1.0864 1)" font-size="95.50">-30</text>
<text transform="translate(134.35 1310.80) scale(1.0581 1)" font-size="95.50">-35</text>
<text transform="translate(134.24 1485.34) scale(1.0906 1)" font-size="95.50">-40</text>
<text transform="translate(244.33 1542.80) scale(1.0643 1)" font-size="95.50">25</text>
<text transform="translate(467.72 1542.94) scale(1.1112 1)" font-size="95.50">30</text>
<text transform="translate(710.43 1542.80) scale(1.0654 1)" font-size="95.50">35</text>
<text transform="translate(949.65 1542.94) scale(1.1011 1)" font-size="95.50">40</text>
<text transform="translate(1197.54 1542.61) scale(1.0511 1)" font-size="95.50">45</text>
<text transform="translate(1423.97 1542.94) scale(1.1053 1)" font-size="95.50">50</text>
<text transform="translate(1666.67 1542.45) scale(1.0682 1)" font-size="95.50">55</text>
<text transform="translate(1912.09 1542.94) scale(1.1235 1)" font-size="95.50">60</text>
<text transform="translate(2135.39 1542.80) scale(1.0494 1)" font-size="95.50">65</text>
<text y="1122.9" font-size="94.6"><tspan x="906.75" textLength="76.56" lengthAdjust="spacingAndGlyphs">H</tspan><tspan x="978.11" textLength="66.66" lengthAdjust="spacingAndGlyphs">=</tspan> <tspan x="1065.08" textLength="52.73" lengthAdjust="spacingAndGlyphs">0</tspan><tspan x="1116.77" textLength="26.66" lengthAdjust="spacingAndGlyphs">.</tspan><tspan x="1144.96" textLength="45.06" lengthAdjust="spacingAndGlyphs">5</tspan><tspan x="1194.28" textLength="51.44" lengthAdjust="spacingAndGlyphs">0</tspan> <tspan x="1270.20" textLength="81.33" lengthAdjust="spacingAndGlyphs">m</tspan><tspan x="1349.60" textLength="81.33" lengthAdjust="spacingAndGlyphs">m</tspan></text>
<text y="1222.3" font-size="94.6"><tspan x="906.75" textLength="76.56" lengthAdjust="spacingAndGlyphs">H</tspan><tspan x="978.11" textLength="66.66" lengthAdjust="spacingAndGlyphs">=</tspan> <tspan x="1064.75" textLength="53.21" lengthAdjust="spacingAndGlyphs">0</tspan><tspan x="1116.87" textLength="26.66" lengthAdjust="spacingAndGlyphs">.</tspan><tspan x="1138.89" textLength="53.91" lengthAdjust="spacingAndGlyphs">7</tspan><tspan x="1194.74" textLength="50.61" lengthAdjust="spacingAndGlyphs">9</tspan> <tspan x="1270.20" textLength="81.33" lengthAdjust="spacingAndGlyphs">m</tspan><tspan x="1349.60" textLength="81.33" lengthAdjust="spacingAndGlyphs">m</tspan></text>
<text y="1314.7" font-size="94.6"><tspan x="906.75" textLength="76.56" lengthAdjust="spacingAndGlyphs">H</tspan><tspan x="978.11" textLength="66.66" lengthAdjust="spacingAndGlyphs">=</tspan> <tspan x="1070.01" textLength="39.77" lengthAdjust="spacingAndGlyphs">1</tspan><tspan x="1116.87" textLength="26.66" lengthAdjust="spacingAndGlyphs">.</tspan><tspan x="1141.95" textLength="53.21" lengthAdjust="spacingAndGlyphs">0</tspan><tspan x="1194.03" textLength="52.14" lengthAdjust="spacingAndGlyphs">0</tspan> <tspan x="1270.20" textLength="81.33" lengthAdjust="spacingAndGlyphs">m</tspan><tspan x="1349.60" textLength="81.33" lengthAdjust="spacingAndGlyphs">m</tspan></text>
<text transform="translate(859.24 1634.10) scale(1.0964 1)" font-size="93.80">Frequency (GHz)</text>
<text transform="translate(91.2 944.0) rotate(-90)" font-size="103.5"><tspan x="-3.59" textLength="17.28" lengthAdjust="spacingAndGlyphs">|</tspan><tspan x="12.91" textLength="53.11" lengthAdjust="spacingAndGlyphs">S</tspan><tspan x="68.18" textLength="22.87" lengthAdjust="spacingAndGlyphs" font-size="69.7" y="15.8">1</tspan><tspan x="98.88" textLength="22.87" lengthAdjust="spacingAndGlyphs" font-size="69.7" y="15.8">1</tspan><tspan x="127.81" textLength="16.48" lengthAdjust="spacingAndGlyphs" y="0">|</tspan> <tspan x="166.65" textLength="33.71" lengthAdjust="spacingAndGlyphs">(</tspan><tspan x="198.88" textLength="47.27" lengthAdjust="spacingAndGlyphs">d</tspan><tspan x="244.01" textLength="62.25" lengthAdjust="spacingAndGlyphs">B</tspan><tspan x="306.09" textLength="33.19" lengthAdjust="spacingAndGlyphs">)</tspan></text>
</svg></body></html>
